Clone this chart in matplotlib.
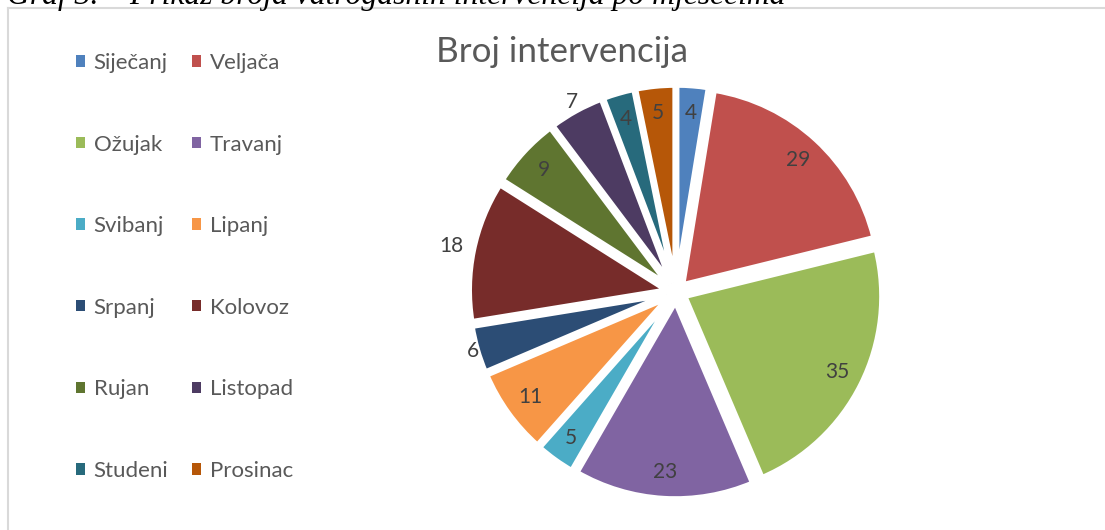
import numpy as np
import matplotlib
matplotlib.use('Agg')
import matplotlib.pyplot as plt
from matplotlib.lines import Line2D

# data
months = ['Siječanj', 'Veljača', 'Ožujak', 'Travanj', 'Svibanj', 'Lipanj',
          'Srpanj', 'Kolovoz', 'Rujan', 'Listopad', 'Studeni', 'Prosinac']
interventions = [4, 29, 35, 23, 5, 11, 6, 18, 9, 7, 4, 5]
colors = ['#4F81BD', '#C0504D', '#9BBB59', '#8064A2', '#4BACC6', '#F79646',
          '#2C4D75', '#772C2A', '#5F7530', '#4D3B62', '#276A7C', '#B65708']

title = 'Broj intervencija'
caption = 'Graf 3. – Prikaz broja vatrogasnih intervencija po mjesecima'

# labels placed outside the pie, distance from centre in pie radii
outside_dist = {'Srpanj': 1.073, 'Kolovoz': 1.163, 'Listopad': 1.10}
inside_dist = 0.914

W, H = 1105, 530
FONT = ['Lato', 'DejaVu Sans']
TXT = '#595959'

fig = plt.figure(figsize=(W / 100, H / 100), dpi=100)
fig.patch.set_facecolor('white')

# chart border (only top and left edges are visible in the crop)
fig.add_artist(Line2D([8 / W, 1], [1 - 8 / H, 1 - 8 / H], color='#d9d9d9', lw=1.5))
fig.add_artist(Line2D([8 / W, 8 / W], [0, 1 - 8 / H], color='#d9d9d9', lw=1.5))

# document caption, cut off by the top edge
fig.text(7 / W, 1 - 4 / H, caption, family='Liberation Serif', style='italic',
         fontsize=22.8, color='black', ha='left', va='baseline')

fig.text(562 / W, 1 - 52 / H, title, family=FONT, fontsize=25.2, color=TXT,
         ha='center', va='center')

# pie axes: centre at (676, 292) px, radius ~197 px
cx, cy, rad, lim = 676, 292, 197, 1.15
s = rad * lim
ax = fig.add_axes([(cx - s) / W, (H - cy - s) / H, 2 * s / W, 2 * s / H])

wedges, texts = ax.pie(interventions, colors=colors, startangle=90,
                       counterclock=False, explode=[0.05] * len(interventions),
                       wedgeprops=dict(edgecolor='white', linewidth=3.8))
ax.set_xlim(-lim, lim)
ax.set_ylim(-lim, lim)
ax.axis('off')

for name, val, w in zip(months, interventions, wedges):
    ang = np.deg2rad((w.theta1 + w.theta2) / 2)
    d = outside_dist.get(name, inside_dist)
    ax.text(d * np.cos(ang), d * np.sin(ang), str(val), family=FONT,
            fontsize=15, color='#404040', ha='center', va='center')

# legend: two columns, filled row by row
order = list(range(0, 12, 2)) + list(range(1, 12, 2))
leg = fig.legend([wedges[i] for i in order], [months[i] for i in order],
                 ncol=2, loc='upper left', bbox_to_anchor=(56 / W, 1 - 33 / H),
                 frameon=False, handlelength=0.42, handleheight=0.42,
                 handletextpad=0.38, columnspacing=1.05, labelspacing=2.77,
                 prop=dict(family=FONT, size=16))
for t in leg.get_texts():
    t.set_color(TXT)
for h in leg.legend_handles:
    h.set_linewidth(0)

fig.savefig('out.png', dpi=100, facecolor='white')
